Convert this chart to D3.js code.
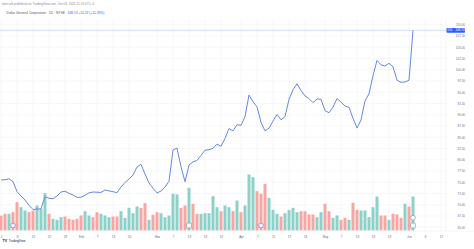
<!DOCTYPE html>
<html>
<head>
<meta charset="utf-8">
<script src="https://cdn.jsdelivr.net/npm/d3@7"></script>
<style>
html, body { margin: 0; padding: 0; background: #fff; }
svg { display: block; font-family: "Liberation Sans", Arial, sans-serif; }
</style>
</head>
<body>
<svg id="chart"></svg>
<script>
// NYSE closed days in the window
const holidays = ["2025-01-09", "2025-01-20", "2025-02-17", "2025-04-18", "2025-05-26"];

// daily closes, Jan 2 .. Jun 3 2025 (last one is intraday)
const closes = [
    75.49, 75.56, 75.76, 75.13, 72.89, 71.93, 71.04, 69.87, 68.93, 69.00,
    69.11, 71.78, 71.42, 71.31, 71.93, 72.82, 73.00, 72.51, 72.16, 71.62,
    71.67, 72.11, 72.64, 72.82, 72.78, 72.73, 73.27, 73.07, 72.89, 72.67,
    73.93, 74.93, 75.71, 76.60, 78.38, 78.98, 76.82, 74.82, 73.67, 72.62,
    73.04, 73.91, 75.18, 82.16, 82.58, 78.44, 75.11, 78.82, 79.53, 79.82,
    80.96, 82.11, 82.22, 82.53, 83.47, 82.98, 84.71, 86.93, 86.38, 87.80,
    87.62, 89.56, 94.38, 92.89, 91.78, 88.31, 86.40, 87.00, 88.60, 90.07,
    88.87, 89.56, 93.42, 95.53, 96.87, 95.38, 94.16, 93.58, 92.67, 93.49,
    93.44, 90.89, 90.44, 91.71, 93.58, 92.80, 91.93, 91.64, 89.20, 87.02,
    88.84, 93.07, 94.67, 98.67, 102.07, 101.07, 100.82, 101.42, 100.64, 97.67,
    97.20, 97.27, 97.67, 108.74
];

// volume in millions of shares
const volumes = [
    3.75, 4.17, 4.17, 4.58, 7.08, 5.83, 5.00, 4.58, 5.00, 6.25,
    5.42, 9.33, 4.17, 2.92, 2.67, 3.33, 3.50, 2.92, 2.67, 2.92,
    3.75, 4.83, 3.75, 3.33, 4.58, 4.17, 3.75, 3.33, 3.50, 3.50,
    4.83, 3.17, 5.67, 4.33, 6.00, 5.67, 6.83, 2.67, 3.92, 4.58,
    4.33, 3.33, 3.75, 9.17, 9.00, 5.67, 6.25, 10.67, 6.67, 4.17,
    4.17, 4.33, 4.33, 8.58, 5.83, 4.83, 6.25, 5.83, 4.83, 7.50,
    4.58, 6.25, 14.00, 13.33, 9.83, 9.17, 11.67, 8.17, 5.17, 4.17,
    3.50, 4.33, 5.17, 5.67, 4.58, 4.83, 4.83, 4.00, 4.00, 3.33,
    4.58, 6.67, 4.83, 3.17, 3.75, 2.67, 3.17, 2.67, 6.92, 5.17,
    5.00, 5.00, 3.33, 5.83, 8.50, 3.75, 3.75, 2.67, 4.17, 4.00,
    3.17, 6.67, 6.00, 8.50
];

// 1 = up day (green volume), 0 = down day (red volume)
const volumeUp = [
    0, 0, 1, 0, 0, 1, 1, 0, 0, 1,
    1, 1, 0, 1, 1, 1, 0, 0, 0, 0,
    0, 1, 1, 0, 0, 1, 1, 1, 0, 0,
    1, 1, 1, 1, 1, 0, 0, 1, 0, 0,
    1, 1, 1, 1, 1, 0, 0, 1, 0, 0,
    1, 1, 1, 1, 1, 0, 1, 1, 0, 1,
    0, 1, 1, 1, 0, 0, 0, 1, 1, 1,
    0, 1, 1, 1, 1, 0, 0, 0, 0, 1,
    1, 0, 0, 1, 1, 0, 0, 1, 0, 0,
    1, 1, 1, 1, 1, 0, 0, 1, 0, 0,
    0, 1, 0, 1
];

const priceTicks = [65, 67.5, 70, 72.5, 75, 77.5, 80, 82.5, 85, 87.5, 90, 92.5,
    95, 97.5, 100, 102.5, 105, 107.5, 110];

const timeLabels = [
    ["2025-01-02", "2"], ["2025-01-08", "8"], ["2025-01-15", "15"], ["2025-01-22", "22"],
    ["2025-01-28", "28"], ["2025-02-03", "Feb"], ["2025-02-07", "7"], ["2025-02-13", "13"],
    ["2025-02-20", "20"], ["2025-03-03", "Mar"], ["2025-03-07", "7"], ["2025-03-13", "13"],
    ["2025-03-19", "19"], ["2025-03-25", "25"], ["2025-04-01", "Apr"], ["2025-04-07", "7"],
    ["2025-04-11", "11"], ["2025-04-17", "17"], ["2025-04-24", "24"], ["2025-05-01", "May"],
    ["2025-05-07", "7"], ["2025-05-13", "13"], ["2025-05-19", "19"], ["2025-05-23", "23"],
    ["2025-06-02", "Jun"], ["2025-06-06", "6"], ["2025-06-12", "12"]
];

const dividends = ["2025-01-07", "2025-04-08"];
const earnings = ["2025-03-13", "2025-06-03"];
const news = ["2025-06-03"];

const symbol = "DG";
const title = "Dollar General Corporation · 1D · NYSE";
const publisher = "tomcraft published on TradingView.com, Jun 03, 2025 11:13 UTC-4";

const width = 474, height = 249;
const paneRight = 446, paneTop = 19, paneBottom = 231;

const svg = d3.select("#chart")
    .attr("width", width)
    .attr("height", height);

// trading days, running a bit past the last bar so the axis can show future dates
const fmt = d3.utcFormat("%Y-%m-%d");
const allDays = d3.utcDay.range(new Date(Date.UTC(2025, 0, 2)), new Date(Date.UTC(2025, 5, 13)))
    .filter(d => d.getUTCDay() % 6 !== 0)
    .map(fmt)
    .filter(s => !holidays.includes(s));
const days = allDays.slice(0, closes.length);

const x = d3.scalePoint().domain(allDays).range([1, 441]);
const y = d3.scaleLinear().domain([65, 110]).range([227.2, 24.7]);
const yVol = d3.scaleLinear().domain([0, 15]).range([230.5, 170.5]);

// grid
const grid = svg.append("g");
grid.selectAll("line.h")
    .data(priceTicks)
    .join("line")
    .attr("class", "h")
    .attr("x1", 0).attr("x2", paneRight)
    .attr("y1", d => y(d)).attr("y2", d => y(d))
    .attr("stroke", "#f0f2f6")
    .attr("stroke-width", 0.6);
grid.selectAll("line.v")
    .data(timeLabels)
    .join("line")
    .attr("class", "v")
    .attr("x1", d => x(d[0])).attr("x2", d => x(d[0]))
    .attr("y1", paneTop).attr("y2", paneBottom)
    .attr("stroke", "#f0f2f6")
    .attr("stroke-width", 0.6);

// volume
svg.append("g")
    .selectAll("rect")
    .data(volumes)
    .join("rect")
    .attr("x", (d, i) => x(days[i]) - 1.5)
    .attr("width", 3)
    .attr("y", d => yVol(d))
    .attr("height", d => yVol(0) - yVol(d))
    .attr("fill", (d, i) => volumeUp[i] ? "#8dd1c9" : "#f6a7a4");

// last price line
const last = closes[closes.length - 1];
const prev = closes[closes.length - 2];
svg.append("line")
    .attr("x1", 0).attr("x2", paneRight)
    .attr("y1", y(last)).attr("y2", y(last))
    .attr("stroke", "#b9c8f0")
    .attr("stroke-width", 0.6);

// price line
const line = d3.line()
    .x((d, i) => x(days[i]))
    .y(d => y(d));
svg.append("path")
    .datum(closes)
    .attr("d", line)
    .attr("fill", "none")
    .attr("stroke", "#5f82dc")
    .attr("stroke-width", 0.95)
    .attr("stroke-linejoin", "round");

// event markers
const markers = svg.append("g");
markers.selectAll("circle.div")
    .data(dividends)
    .join("circle")
    .attr("class", "div")
    .attr("cx", d => x(d)).attr("cy", 225.5).attr("r", 2.4)
    .attr("fill", "#eef0fb").attr("stroke", "#7b83d6").attr("stroke-width", 0.7);
markers.selectAll("rect.earn")
    .data(earnings)
    .join("rect")
    .attr("class", "earn")
    .attr("x", d => x(d) - 2.4).attr("y", 223.1)
    .attr("width", 4.8).attr("height", 4.8).attr("rx", 1)
    .attr("fill", "#fff").attr("stroke", "#8f939e").attr("stroke-width", 0.7);
markers.selectAll("circle.news")
    .data(news)
    .join("circle")
    .attr("class", "news")
    .attr("cx", d => x(d)).attr("cy", 217.8).attr("r", 2.4)
    .attr("fill", "#fff").attr("stroke", "#8f939e").attr("stroke-width", 0.7);

// pane borders
svg.append("line")
    .attr("x1", paneRight).attr("x2", paneRight)
    .attr("y1", paneTop).attr("y2", paneBottom)
    .attr("stroke", "#eceef2").attr("stroke-width", 0.6);
svg.append("line")
    .attr("x1", 0).attr("x2", width)
    .attr("y1", paneBottom).attr("y2", paneBottom)
    .attr("stroke", "#eceef2").attr("stroke-width", 0.6);

// price axis
const yAxis = svg.append("g")
    .attr("transform", `translate(465, 0)`)
    .call(d3.axisLeft(y).tickValues(priceTicks).tickSize(0).tickPadding(0).tickFormat(d3.format(".2f")));
yAxis.select(".domain").remove();
yAxis.selectAll("text")
    .attr("font-size", 3)
    .attr("fill", "#6a6d78")
    .attr("font-family", "Liberation Sans, Arial, sans-serif");

// last price label
const tag = svg.append("g").attr("transform", `translate(446.5, ${y(last)})`);
tag.append("rect")
    .attr("x", 0).attr("y", -2.3)
    .attr("width", 18.5).attr("height", 4.6)
    .attr("rx", 0.6)
    .attr("fill", "#2962ff");
tag.append("text")
    .attr("x", 1).attr("y", 1.05)
    .attr("font-size", 3)
    .attr("fill", "#fff")
    .text(symbol);
tag.append("text")
    .attr("x", 18.2).attr("y", 1.05)
    .attr("font-size", 3)
    .attr("text-anchor", "end")
    .attr("fill", "#fff")
    .text(d3.format(".2f")(last));

// time axis
const labelOf = new Map(timeLabels);
const xAxis = svg.append("g")
    .attr("transform", `translate(0, ${paneBottom})`)
    .call(d3.axisBottom(x).tickValues(timeLabels.map(d => d[0])).tickSize(0).tickPadding(5.3)
        .tickFormat(d => labelOf.get(d)));
xAxis.select(".domain").remove();
xAxis.selectAll("text")
    .attr("font-size", 3)
    .attr("fill", "#6a6d78")
    .attr("font-family", "Liberation Sans, Arial, sans-serif");

// header
svg.append("text")
    .attr("x", 2).attr("y", 5.2)
    .attr("font-size", 3.1)
    .attr("fill", "#8a8d96")
    .text(publisher);
const head = svg.append("text")
    .attr("x", 6.5).attr("y", 14.4)
    .attr("font-size", 3.3);
head.append("tspan").attr("fill", "#55585f").text(title);
head.append("tspan").attr("fill", "#2962ff").attr("dx", 2.5)
    .text(`${d3.format(".2f")(last)}  ${d3.format("+.2f")(last - prev)} (${d3.format("+.2%")((last - prev) / prev)})`);

// logo
const logo = svg.append("g").attr("transform", "translate(2.5, 242.2)");
logo.append("text")
    .attr("font-size", 3.6).attr("font-weight", "bold")
    .attr("fill", "#131722")
    .text("TV");
logo.append("text")
    .attr("x", 6.3)
    .attr("font-size", 3)
    .attr("fill", "#131722")
    .text("TradingView");
</script>
</body>
</html>
